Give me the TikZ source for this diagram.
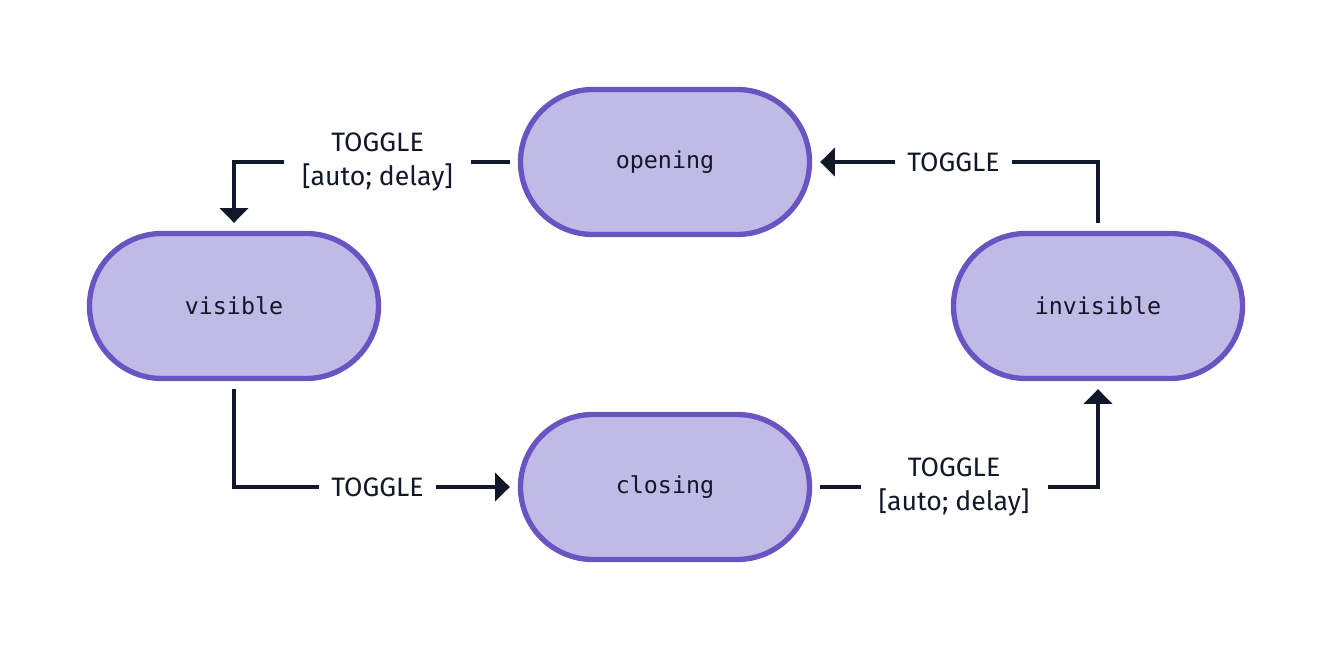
\documentclass[tikz,border=0pt]{standalone}
\usepackage{fontspec}
\setmainfont{Fira Sans}
\setmonofont{DejaVu Sans Mono}
\usetikzlibrary{shapes.misc,arrows.meta}
\definecolor{statefill}{HTML}{C0BAE6}
\definecolor{stateborder}{HTML}{6A54C2}
\definecolor{ink}{HTML}{111827}
\begin{document}
\begin{tikzpicture}[x=0.75pt,y=-0.75pt,
  state/.style={rounded rectangle, draw=stateborder, fill=statefill, line width=4pt,
    minimum width=216.75pt, minimum height=108.75pt, inner sep=0pt, outer sep=8pt,
    text=ink, font=\ttfamily\fontsize{17.5}{20}\selectfont},
  lbl/.style={inner sep=0pt, outer sep=0pt, align=center, text=ink,
    font=\fontsize{20}{26}\selectfont},
  lbltwo/.style={lbl, minimum width=140.25pt},
  lblone/.style={lbl, minimum width=87.75pt},
  edge/.style={draw=ink, line width=2.4pt},
  arr/.style={edge, -{Triangle[width=21pt,length=11pt]}}
]
\useasboundingbox (0,0) rectangle (1332,648);
\node[state] (opening) at (665,162) {opening};
\node[state] (visible) at (234,306) {visible};
\node[state] (invisible) at (1098,306) {invisible};
\node[state] (closing) at (665,487) {closing};

\node[lbltwo] (l1) at (377.5,162) {TOGGLE\\{}[auto; delay]};
\node[lblone] (l2) at (953.5,162) {TOGGLE};
\node[lblone] (l3) at (377.5,487) {TOGGLE};
\node[lbltwo] (l4) at (954,487) {TOGGLE\\{}[auto; delay]};

\draw[edge] (opening.west) -- (l1.east);
\draw[arr] (l1.west) -| (visible.north);
\draw[edge] (invisible.north) |- (l2.east);
\draw[arr] (l2.west) -- (opening.east);
\draw[edge] (visible.south) |- (l3.west);
\draw[arr] (l3.east) -- (closing.west);
\draw[edge] (closing.east) -- (l4.west);
\draw[arr] (l4.east) -| (invisible.south);
\end{tikzpicture}
\end{document}
